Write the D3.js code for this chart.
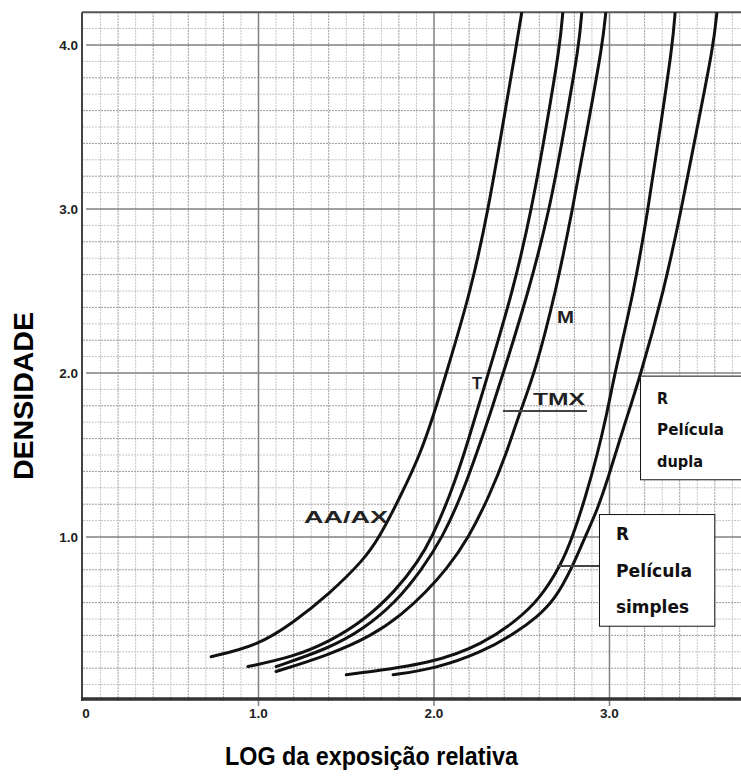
<!DOCTYPE html>
<html>
<head>
<meta charset="utf-8">
<script src="https://cdn.jsdelivr.net/npm/d3@7"></script>
<style>
  body { margin: 0; background: #fff; }
  svg { display: block; }
</style>
</head>
<body>
<div id="chart"></div>
<script>
// Canvas size
var svgWidth = 741;
var svgHeight = 776;

// Tick values and their labels
var xTicks = [0, 1, 2, 3];
var xTickLabels = ["0", "1.0", "2.0", "3.0"];
var yTicks = [1, 2, 3, 4];
var yTickLabels = ["1.0", "2.0", "3.0", "4.0"];

// Curves: [log exposure, density]
var aaax = [[0.73, 0.27], [1.0, 0.34], [1.2, 0.48], [1.4, 0.65], [1.6, 0.86], [1.69, 1.0],
  [1.81, 1.25], [1.92, 1.5], [2.0, 1.75], [2.07, 2.0], [2.21, 2.5], [2.31, 3.0],
  [2.39, 3.5], [2.47, 4.0], [2.5, 4.2]];
var curveT = [[0.94, 0.21], [1.2, 0.27], [1.4, 0.36], [1.6, 0.49], [1.78, 0.67], [1.91, 0.85],
  [1.99, 1.0], [2.09, 1.25], [2.17, 1.5], [2.24, 1.75], [2.31, 2.0], [2.45, 2.5],
  [2.557, 3.0], [2.64, 3.5], [2.718, 4.0], [2.734, 4.2]];
var curveTMX = [[1.1, 0.21], [1.4, 0.32], [1.6, 0.44], [1.78, 0.6], [1.93, 0.8], [2.05, 1.0],
  [2.155, 1.25], [2.24, 1.5], [2.32, 1.75], [2.395, 2.0], [2.54, 2.5], [2.66, 3.0],
  [2.745, 3.5], [2.827, 4.0], [2.842, 4.2]];
var curveM = [[1.1, 0.18], [1.4, 0.28], [1.65, 0.4], [1.82, 0.53], [1.95, 0.66], [2.07, 0.8],
  [2.2, 1.0], [2.315, 1.25], [2.41, 1.5], [2.485, 1.75], [2.575, 2.0], [2.695, 2.5],
  [2.79, 3.0], [2.875, 3.5], [2.96, 4.0], [2.979, 4.2]];
var rDupla = [[1.5, 0.16], [2.0, 0.23], [2.28, 0.35], [2.47, 0.49], [2.6, 0.62], [2.72, 0.82],
  [2.79, 1.0], [2.865, 1.25], [2.93, 1.5], [2.985, 1.75], [3.03, 2.0], [3.14, 2.5],
  [3.22, 3.0], [3.29, 3.5], [3.359, 4.0], [3.374, 4.2]];
var rSimples = [[1.767, 0.16], [2.0, 0.195], [2.28, 0.3], [2.47, 0.42], [2.585, 0.51],
  [2.69, 0.62], [2.79, 0.82], [2.86, 1.0], [2.925, 1.15], [2.99, 1.35], [3.08, 1.67],
  [3.17, 1.96], [3.31, 2.5], [3.41, 3.0], [3.5, 3.5], [3.593, 4.0], [3.612, 4.2]];

var curves = [aaax, curveT, curveTMX, curveM, rDupla, rSimples];

// Curve labels: text, x, y (data units, baseline left)
var labelNames = ["AA/AX", "T", "TMX", "M"];
var labelX = [1.259, 2.217, 2.564, 2.701];
var labelY = [1.085, 1.902, 1.805, 2.307];
var labelWidths = [84, 10, 52, 17];

// Legend boxes
var boxLines = [["R", "Película", "dupla"], ["R", "Película", "simples"]];

var svg = d3.select("#chart")
  .append("svg")
  .attr("width", svgWidth)
  .attr("height", svgHeight);

// Scales
var xScale = d3.scaleLinear()
  .domain([0, 3.75])
  .range([83, 83 + 3.75 * 175.5]);

var yScale = d3.scaleLinear()
  .domain([0, 4.2])
  .range([701, 701 - 4.2 * 164]);

var x0 = xScale(0), x1 = svgWidth;
var yTop = yScale(4.2), yBottom = yScale(0);

// Minor grid, every 0.1
var gridGroup = svg.append("g");
var minorX = d3.range(1, 38).map(d => d / 10).filter(d => Math.round(d * 10) % 10 !== 0);
var minorY = d3.range(1, 42).map(d => d / 10).filter(d => Math.round(d * 10) % 10 !== 0);

gridGroup.selectAll(".vminor")
  .data(minorX)
  .enter()
  .append("line")
  .attr("x1", d => xScale(d))
  .attr("x2", d => xScale(d))
  .attr("y1", yTop)
  .attr("y2", yBottom)
  .attr("stroke", d => Math.round(d * 10) % 2 === 0 ? "#9a9a9a" : "#c4c4c4")
  .attr("stroke-width", 1)
  .attr("stroke-dasharray", "2,1");

gridGroup.selectAll(".hminor")
  .data(minorY)
  .enter()
  .append("line")
  .attr("x1", x0)
  .attr("x2", x1)
  .attr("y1", d => yScale(d))
  .attr("y2", d => yScale(d))
  .attr("stroke", d => Math.round(d * 10) % 2 === 0 ? "#9a9a9a" : "#c4c4c4")
  .attr("stroke-width", 1)
  .attr("stroke-dasharray", "2,1");

// Major grid at whole units
gridGroup.selectAll(".vmajor")
  .data(xTicks.filter(d => d > 0))
  .enter()
  .append("line")
  .attr("x1", d => xScale(d))
  .attr("x2", d => xScale(d))
  .attr("y1", yTop)
  .attr("y2", yBottom + 5)
  .attr("stroke", "#808080")
  .attr("stroke-width", 1.5);

gridGroup.selectAll(".hmajor")
  .data(yTicks)
  .enter()
  .append("line")
  .attr("x1", x0 + 3)
  .attr("x2", x1)
  .attr("y1", d => yScale(d))
  .attr("y2", d => yScale(d))
  .attr("stroke", "#808080")
  .attr("stroke-width", 1.5);

// Frame: top, left axis, bottom axis
svg.append("line")
  .attr("x1", x0 - 1).attr("x2", x1)
  .attr("y1", yTop).attr("y2", yTop)
  .attr("stroke", "#555").attr("stroke-width", 2);

svg.append("line")
  .attr("x1", x0 - 1).attr("x2", x0 - 1)
  .attr("y1", yTop).attr("y2", yBottom)
  .attr("stroke", "#444").attr("stroke-width", 2);

svg.append("line")
  .attr("x1", x0 - 2).attr("x2", x1)
  .attr("y1", yBottom - 2).attr("y2", yBottom - 2)
  .attr("stroke", "#333").attr("stroke-width", 3.5);

// Tick labels
svg.selectAll(".xlabel")
  .data(xTicks)
  .enter()
  .append("text")
  .attr("x", d => xScale(d) + (d === 0 ? 3 : 0))
  .attr("y", yBottom + 17)
  .attr("text-anchor", "middle")
  .style("font-family", "'Liberation Sans', Arial, sans-serif")
  .style("font-weight", "bold")
  .style("font-size", "13.5px")
  .style("fill", "#222")
  .text((d, i) => xTickLabels[i]);

svg.selectAll(".ylabel")
  .data(yTicks)
  .enter()
  .append("text")
  .attr("x", x0 - 5)
  .attr("y", d => yScale(d) + 5)
  .attr("text-anchor", "end")
  .style("font-family", "'Liberation Sans', Arial, sans-serif")
  .style("font-weight", "bold")
  .style("font-size", "13.5px")
  .style("fill", "#222")
  .text((d, i) => yTickLabels[i]);

// Curves
var clip = svg.append("clipPath")
  .attr("id", "plot-clip")
  .append("rect")
  .attr("x", x0)
  .attr("y", yTop)
  .attr("width", x1 - x0)
  .attr("height", yBottom - yTop);

var line = d3.line()
  .x(d => xScale(d[0]))
  .y(d => yScale(d[1]))
  .curve(d3.curveBasis);

svg.append("g")
  .attr("clip-path", "url(#plot-clip)")
  .selectAll("path")
  .data(curves)
  .enter()
  .append("path")
  .attr("d", line)
  .attr("fill", "none")
  .attr("stroke", "#111")
  .attr("stroke-width", 3)
  .attr("stroke-linecap", "round");

// Curve labels
svg.selectAll(".clabel")
  .data(labelNames)
  .enter()
  .append("text")
  .attr("x", (d, i) => xScale(labelX[i]))
  .attr("y", (d, i) => yScale(labelY[i]))
  .attr("textLength", (d, i) => labelWidths[i])
  .attr("lengthAdjust", "spacingAndGlyphs")
  .style("font-family", "'Liberation Sans', Arial, sans-serif")
  .style("font-weight", "bold")
  .style("font-size", "17px")
  .style("fill", "#222")
  .text(d => d);

// TMX underline and the leader for the "simples" box
svg.append("line")
  .attr("x1", xScale(2.393)).attr("x2", xScale(2.872))
  .attr("y1", yScale(1.768)).attr("y2", yScale(1.768))
  .attr("stroke", "#444").attr("stroke-width", 2);

svg.append("line")
  .attr("x1", xScale(2.701)).attr("x2", xScale(2.94))
  .attr("y1", yScale(0.823)).attr("y2", yScale(0.823))
  .attr("stroke", "#444").attr("stroke-width", 2);

// Legend boxes (data units)
var boxX0 = [3.174, 2.94];
var boxX1 = [3.79, 3.597];
var boxYTop = [1.984, 1.14];
var boxYBottom = [1.352, 0.459];
var boxFont = [15, 17];
var boxTextX = [3.271, 3.037];
var boxBaselines = [[1.811, 1.622, 1.427], [0.982, 0.758, 0.538]];
var boxWidths = [[11, 67, 46], [13, 76, 73]];

boxLines.forEach(function (lines, b) {
  svg.append("rect")
    .attr("x", xScale(boxX0[b]) + 0.5)
    .attr("y", yScale(boxYTop[b]) + 0.5)
    .attr("width", xScale(boxX1[b]) - xScale(boxX0[b]))
    .attr("height", yScale(boxYBottom[b]) - yScale(boxYTop[b]))
    .attr("fill", "#fff")
    .attr("stroke", "#111")
    .attr("stroke-width", 1);

  svg.selectAll(".box" + b)
    .data(lines)
    .enter()
    .append("text")
    .attr("x", xScale(boxTextX[b]))
    .attr("y", (d, i) => yScale(boxBaselines[b][i]))
    .attr("textLength", (d, i) => boxWidths[b][i])
    .attr("lengthAdjust", "spacingAndGlyphs")
    .style("font-family", "'DejaVu Sans', Verdana, sans-serif")
    .style("font-weight", "bold")
    .style("font-size", boxFont[b] + "px")
    .style("fill", "#111")
    .text(d => d);
});

// Axis titles
svg.append("text")
  .attr("x", 225)
  .attr("y", 765)
  .attr("textLength", 293)
  .attr("lengthAdjust", "spacingAndGlyphs")
  .style("font-family", "'Liberation Sans', Arial, sans-serif")
  .style("font-weight", "bold")
  .style("font-size", "25px")
  .style("fill", "#000")
  .text("LOG da exposição relativa");

svg.append("text")
  .attr("transform", "translate(33, 396) rotate(-90)")
  .attr("text-anchor", "middle")
  .attr("textLength", 168)
  .attr("lengthAdjust", "spacingAndGlyphs")
  .style("font-family", "'Liberation Sans', Arial, sans-serif")
  .style("font-weight", "bold")
  .style("font-size", "27px")
  .style("fill", "#000")
  .text("DENSIDADE");
</script>
</body>
</html>
